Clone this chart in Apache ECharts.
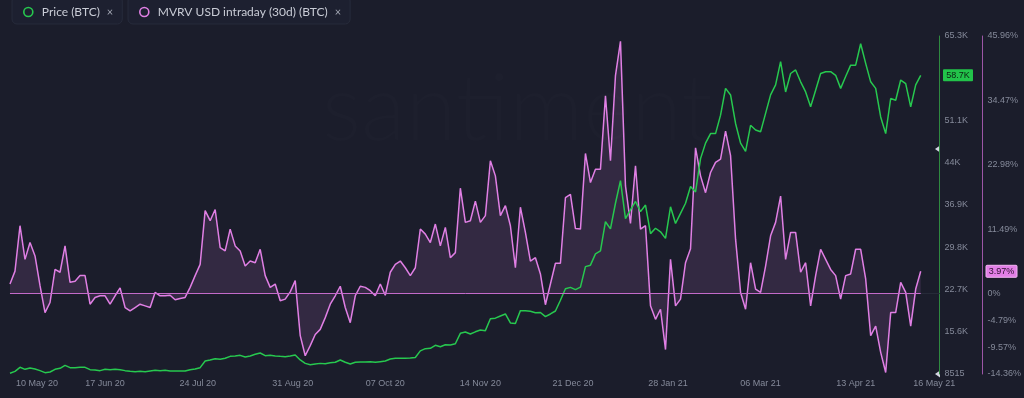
<!DOCTYPE html>
<html>
<head>
<meta charset="utf-8">
<title>Price (BTC) / MVRV USD intraday (30d) (BTC)</title>
<script src="https://cdn.jsdelivr.net/npm/echarts@6/dist/echarts.min.js"></script>
<style>
	html, body { margin: 0; padding: 0; background: #1b1d2b; }
	#chart { width: 1024px; height: 398px; }
</style>
</head>
<body>
<div id="chart"></div>
<script>
// first sample and spacing between samples (days)
var startDate = '2020-05-10';
var stepDays = 2;

// Price (BTC), USD
var price = [
	8630, 8960, 9640, 9300, 9520, 9350, 9080, 8740, 8850, 9300,
	9470, 9970, 9580, 9580, 9640, 9640, 9240, 9190, 9080, 9300,
	9240, 9300, 9240, 9080, 8960, 8900, 8960, 8900, 9020, 9130,
	9080, 9130, 9020, 9020, 9020, 9020, 9240, 9350, 9580, 10700,
	10870, 11090, 10980, 11150, 11480, 11540, 11650, 11370, 11540, 11820,
	12040, 11600, 11650, 11540, 11480, 11430, 11540, 11700, 10870, 10300,
	10080, 10200, 10300, 10250, 10420, 10480, 10870, 10480, 10200, 10480,
	10530, 10530, 10590, 10480, 10590, 10700, 11040, 11150, 11150, 11150,
	11200, 11300, 12400, 12770, 12830, 13330, 13100, 13440, 13390, 13600,
	15350, 15570, 15230, 15600, 15900, 15800, 17800, 17900, 18260, 18600,
	17100, 17000, 19160, 19160, 19050, 18800, 18850, 18150, 18600, 19100,
	20900, 22850, 23070, 22700, 23100, 26550, 26800, 28700, 29200, 34100,
	32900, 37200, 41000, 34600, 36100, 37500, 35800, 36900, 32100, 33000,
	32400, 31300, 36600, 33800, 35500, 37200, 40000, 39100, 44700, 47300,
	48900, 48900, 52000, 56500, 55400, 50600, 47300, 45900, 50300, 49500,
	49200, 52300, 55400, 57100, 61000, 55900, 59000, 59600, 57600, 55900,
	53400, 56200, 59000, 59300, 59300, 58700, 56500, 58500, 60400, 60400,
	64000, 60700, 57600, 56500, 51700, 48900, 54800, 54500, 57900, 57300,
	53400, 57100, 58700
];

// MVRV USD intraday (30d) (BTC), %
var mvrv = [
	1.7, 4.0, 12.1, 6.1, 9.1, 6.7, 1.4, -3.4, -1.6, 4.3,
	3.8, 8.5, 2.0, 2.2, 3.2, 3.2, -1.9, -0.7, -0.4, -0.4,
	-1.9, -0.4, 1.0, -2.5, -3.1, -2.5, -1.9, -2.2, -2.5, 0.2,
	-0.4, -0.4, -0.3, -1.1, -0.9, -0.7, 1.1, 3.2, 5.2, 14.8,
	13.0, 15.0, 8.2, 7.6, 11.5, 8.5, 7.6, 4.9, 5.8, 5.5,
	7.9, 3.2, 1.1, 1.7, -1.3, -1.0, 0.3, 2.3, -7.5, -11.1,
	-9.3, -7.3, -6.4, -4.3, -1.9, -0.4, 1.3, -2.5, -5.2, -0.4,
	1.3, 1.1, 0.5, -0.4, 1.7, -0.3, 3.8, 5.2, 5.8, 4.6,
	3.2, 4.6, 11.5, 10.6, 9.1, 12.4, 8.5, 11.8, 6.4, 7.3,
	18.8, 12.7, 13.0, 16.5, 12.7, 13.9, 23.7, 21.0, 13.9, 15.7,
	12.1, 4.6, 15.4, 10.9, 5.8, 6.4, 3.5, -2.0, 1.7, 5.4,
	5.4, 17.1, 17.7, 11.6, 11.5, 25.0, 19.8, 22.2, 22.2, 35.3,
	23.7, 38.9, 45.0, 19.2, 12.5, 22.8, 11.5, 12.1, -2.2, -4.6,
	-2.8, -10.0, 6.1, -2.2, -1.0, 5.5, 8.0, 26.0, 21.0, 18.0,
	21.6, 23.4, 24.0, 29.0, 24.6, 9.7, 0.2, -2.8, 5.5, 0.8,
	0.2, 4.9, 10.3, 12.7, 17.4, 6.1, 10.9, 10.9, 3.8, 5.5,
	-2.2, 3.2, 7.9, 6.1, 4.3, 3.2, -1.0, 3.2, 3.5, 7.9,
	7.9, 2.6, -7.5, -5.8, -10.5, -14.1, -3.4, -3.4, 2.0, 0.2,
	-5.8, 0.8, 3.97
];

// axis ticks
var xTicks = ['2020-05-10', '2020-06-17', '2020-07-24', '2020-08-31', '2020-10-07', '2020-11-14',
	'2020-12-21', '2021-01-28', '2021-03-06', '2021-04-13', '2021-05-16'];
var xEnd = '2021-05-16T12:00:00Z';
var priceTicks = [8515, 15613, 22711, 29809, 36907, 44005, 51103, 65299];
var mvrvTicks = [-14.36, -9.57, -4.79, 0, 11.49, 22.98, 34.47, 45.96];
var priceRange = [8515, 65299];
var mvrvRange = [-14.36, 45.96];

// latest values shown on the axes, and the two small flags on the price axis
var lastPrice = 58700;
var lastMvrv = 3.97;
var priceFlags = [46300, 8515];

var PRICE_NAME = 'Price (BTC)';
var MVRV_NAME = 'MVRV USD intraday (30d) (BTC)';
var GREEN = '#27c84f';
var PINK = '#e07fe4';
var LABEL = '#858a9a';
var AXIS_FONT = '"Liberation Sans", Arial, sans-serif';

var DAY = 86400000;
var MONTHS = ['Jan', 'Feb', 'Mar', 'Apr', 'May', 'Jun', 'Jul', 'Aug', 'Sep', 'Oct', 'Nov', 'Dec'];

function toTime(s) {
	return s.length > 10 ? Date.parse(s) : Date.parse(s + 'T00:00:00Z');
}

function fmtDate(t) {
	var d = new Date(t);
	var dd = d.getUTCDate();
	return (dd < 10 ? '0' + dd : dd) + ' ' + MONTHS[d.getUTCMonth()] + ' ' + String(d.getUTCFullYear()).slice(2);
}

function fmtPrice(v) {
	if (v < 10000) return String(Math.round(v));
	return (v / 1000).toFixed(1).replace(/\.0$/, '') + 'K';
}

var t0 = toTime(startDate);
var xTickTimes = xTicks.map(toTime);

function pairs(values) {
	var out = [];
	for (var i = 0; i < values.length; i++) {
		out.push([t0 + i * stepDays * DAY, values[i]]);
	}
	return out;
}

var priceData = pairs(price);
var mvrvData = pairs(mvrv);
var tLast = mvrvData[mvrvData.length - 1][0];

// one framed legend per series
function legendBox(left, name, color) {
	return {
		left: left,
		top: -4,
		data: [name],
		selectedMode: false,
		icon: 'circle',
		itemWidth: 9,
		itemHeight: 9,
		itemStyle: { color: 'transparent', borderColor: color, borderWidth: 1.6 },
		backgroundColor: '#1d2030',
		borderColor: '#272b3b',
		borderWidth: 1,
		borderRadius: 5,
		padding: [10, 9, 6, 11],
		formatter: function (n) {
			return '{n|' + n + '}{x|×}';
		},
		textStyle: {
			rich: {
				n: { color: '#c9ccd6', fontSize: 12, fontFamily: 'Lato, sans-serif', padding: [0, 0, 0, 4] },
				x: { color: '#a3a7b4', fontSize: 11, fontFamily: 'Lato, sans-serif', padding: [0, 0, 0, 7] }
			}
		}
	};
}

var chart = echarts.init(document.getElementById('chart'));

var option = {
	backgroundColor: '#1b1d2b',
	animation: false,
	legend: [
		legendBox(12, PRICE_NAME, GREEN),
		legendBox(128, MVRV_NAME, PINK)
	],
	grid: { left: 10, right: 84, top: 36, bottom: 24 },
	graphic: [
		{
			type: 'text',
			left: 322,
			top: 64,
			silent: true,
			style: {
				text: 'santiment',
				font: '300 92px Lato, sans-serif',
				fill: 'rgba(255,255,255,0.012)'
			}
		}
	],
	// dates as plain timestamps on a value axis
	xAxis: {
		type: 'value',
		min: t0,
		max: toTime(xEnd),
		axisLine: { show: true, lineStyle: { color: '#262a38' } },
		axisTick: { show: false },
		splitLine: { show: false },
		axisLabel: {
			customValues: xTickTimes,
			color: LABEL,
			fontSize: 9,
			fontFamily: AXIS_FONT,
			margin: 5,
			formatter: function (v) {
				var s = fmtDate(v);
				if (v === xTickTimes[0]) return '{first|' + s + '}';
				if (v === xTickTimes[xTickTimes.length - 1]) return '{last|' + s + '}';
				return s;
			},
			rich: {
				first: { color: LABEL, fontSize: 9, fontFamily: AXIS_FONT, padding: [0, 0, 0, 54] },
				last: { color: LABEL, fontSize: 9, fontFamily: AXIS_FONT, padding: [0, 8, 0, 0] }
			}
		}
	},
	yAxis: [
		{
			type: 'value',
			position: 'right',
			min: priceRange[0],
			max: priceRange[1],
			axisLine: { show: true, lineStyle: { color: '#2f8a40' } },
			axisTick: { show: false },
			splitLine: { show: false },
			axisLabel: {
				customValues: priceTicks,
				color: LABEL,
				fontSize: 9,
				fontFamily: AXIS_FONT,
				margin: 5,
				formatter: fmtPrice
			}
		},
		{
			type: 'value',
			position: 'right',
			offset: 43,
			min: mvrvRange[0],
			max: mvrvRange[1],
			axisLine: { show: true, lineStyle: { color: '#9c56a6' } },
			axisTick: { show: false },
			splitLine: { show: false },
			axisLabel: {
				customValues: mvrvTicks,
				color: LABEL,
				fontSize: 9,
				fontFamily: AXIS_FONT,
				margin: 5,
				formatter: function (v) { return v + '%'; }
			}
		}
	],
	series: [
		{
			name: MVRV_NAME,
			type: 'line',
			yAxisIndex: 1,
			data: mvrvData,
			symbol: 'none',
			lineStyle: { color: PINK, width: 1.5 },
			itemStyle: { color: PINK },
			areaStyle: { color: 'rgba(224,127,228,0.18)' },
			markLine: {
				silent: true,
				symbol: 'none',
				label: { show: false },
				lineStyle: { color: '#c46bca', width: 1, type: 'solid' },
				data: [[{ coord: [t0, 0] }, { coord: [tLast, 0] }]]
			}
		},
		{
			name: PRICE_NAME,
			type: 'line',
			yAxisIndex: 0,
			data: priceData,
			symbol: 'none',
			lineStyle: { color: GREEN, width: 1.5 },
			itemStyle: { color: GREEN }
		}
	]
};

chart.setOption(option);

// latest-value tags and flags on the right axes
var axisX = 1024 - 84;
var yP = chart.convertToPixel({ yAxisIndex: 0 }, lastPrice);
var yM = chart.convertToPixel({ yAxisIndex: 1 }, lastMvrv);

var marks = [
	{ type: 'rect', shape: { x: axisX + 3, y: yP - 6, width: 30, height: 12, r: 1 }, style: { fill: '#22c34a' } },
	{
		type: 'text',
		style: {
			text: fmtPrice(lastPrice), x: axisX + 18, y: yP,
			align: 'center', verticalAlign: 'middle', textAlign: 'center', textVerticalAlign: 'middle',
			font: '9px ' + AXIS_FONT, fill: '#0c2212'
		}
	},
	{ type: 'rect', shape: { x: axisX + 46, y: yM - 6, width: 31, height: 12, r: 1 }, style: { fill: '#e27fe6', stroke: '#f2b3f3', lineWidth: 1 } },
	{
		type: 'text',
		style: {
			text: lastMvrv + '%', x: axisX + 61.5, y: yM,
			align: 'center', verticalAlign: 'middle', textAlign: 'center', textVerticalAlign: 'middle',
			font: '9px ' + AXIS_FONT, fill: '#2b0f2e'
		}
	}
];

priceFlags.forEach(function (v) {
	var y = chart.convertToPixel({ yAxisIndex: 0 }, v);
	marks.push({
		type: 'polygon',
		shape: { points: [[axisX - 5, y], [axisX, y - 3.5], [axisX, y + 3.5]] },
		style: { fill: '#d4d7e2' }
	});
});

chart.setOption({ graphic: option.graphic.concat(marks) });
</script>
</body>
</html>
